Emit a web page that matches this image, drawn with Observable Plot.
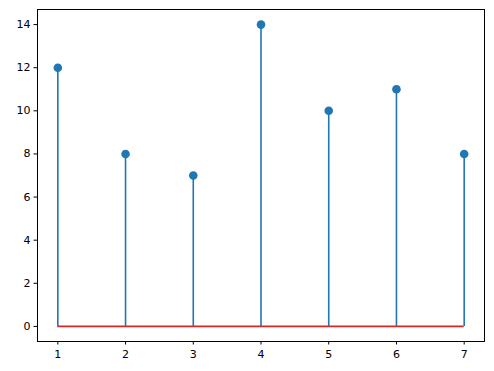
<!DOCTYPE html>
<html><head><meta charset="utf-8">
<script src="https://cdn.jsdelivr.net/npm/d3@7"></script>
<script src="https://cdn.jsdelivr.net/npm/@observablehq/plot@0.6"></script>
<style>body{margin:0;background:#fff;} svg{display:block;}</style>
</head><body>
<div id="chart"></div>
<script>
const xs = [1, 2, 3, 4, 5, 6, 7];
const values = [12, 8, 7, 14, 10, 11, 8];
const xTicks = [1, 2, 3, 4, 5, 6, 7];
const yTicks = [0, 2, 4, 6, 8, 10, 12, 14];

const data = xs.map((x, i) => ({x, y: values[i]}));

const plot = Plot.plot({
  width: 494, height: 371,
  marginLeft: 37, marginRight: 10, marginTop: 9, marginBottom: 30,
  style: {fontFamily: "DejaVu Sans", fontSize: "11px", color: "#000", background: "#fff"},
  x: {domain: [0.7, 7.3], label: null},
  y: {domain: [-0.7, 14.7], label: null},
  marks: [
    Plot.frame({stroke: "#000", strokeWidth: 1}),
    Plot.axisX({ticks: xTicks, tickSize: 3.5, tickPadding: 5, tickFormat: d => String(d), stroke: "#000"}),
    Plot.axisY({ticks: yTicks, tickSize: 3.5, tickPadding: 3.5, tickFormat: d => String(d), stroke: "#000"}),
    Plot.ruleX(data, {x: "x", y1: 0, y2: "y", stroke: "#1f77b4", strokeWidth: 1.6}),
    Plot.ruleY([0], {x1: d3.min(xs), x2: d3.max(xs), stroke: "#d62728", strokeWidth: 1.6}),
    Plot.dot(data, {x: "x", y: "y", r: 4.3, fill: "#1f77b4", stroke: "none"})
  ]
});
document.getElementById("chart").appendChild(plot);
</script>
</body></html>
